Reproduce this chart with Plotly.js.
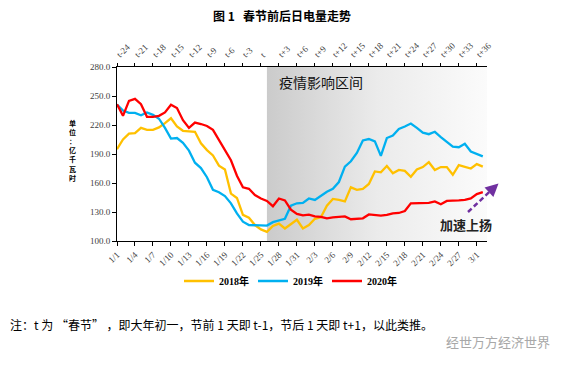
<!DOCTYPE html>
<html>
<head>
<meta charset="utf-8">
<script src="https://cdn.plot.ly/plotly-3.0.1.min.js"></script>
<style>
html,body{margin:0;padding:0;background:#fff;}
#chart{width:568px;height:366px;}
</style>
</head>
<body>
<div id="chart"></div>
<script>
// ---- data ----
const dates = ['1/1','1/2','1/3','1/4','1/5','1/6','1/7','1/8','1/9','1/10','1/11','1/12','1/13','1/14','1/15','1/16','1/17','1/18','1/19','1/20','1/21','1/22','1/23','1/24','1/25','1/26','1/27','1/28','1/29','1/30','1/31',
  '2/1','2/2','2/3','2/4','2/5','2/6','2/7','2/8','2/9','2/10','2/11','2/12','2/13','2/14','2/15','2/16','2/17','2/18','2/19','2/20','2/21','2/22','2/23','2/24','2/25','2/26','2/27','2/28','2/29','3/1','3/2'];

const y2018 = [195,205,211,211.5,217,215,215,217.5,222,227,218.5,214,213.5,213,201,194,188.5,178,174,149,144.5,127,124,116.5,112,109.5,115.5,118,113,118,122,
  113,116.5,123,124.5,136.5,143.5,142.5,141,155.5,153,154,159,172,171,177.5,170,173.5,172.5,166.5,174,176.5,181.5,173.5,176.5,176.5,168.5,178.5,176.5,175,179.5,177];

const y2019 = [241,235,232.5,232.5,230,233,230.5,226.5,217,206,206.5,201.5,193.5,181,175.5,166,153,150.5,146.5,139,128.5,120,116.5,116.5,116.5,116,119.5,121.5,123,136.5,139,
  139.5,144,142.5,147,151,154,161,177,182.5,191,204,205.5,203,188,206.5,209,216,218.5,221.5,217,212,210.5,213,207.5,202,197.5,197,200.5,192.5,190,187.5];

const y2020 = [241.5,229.5,245,247,241.5,228.5,228.5,229.5,233,241,237.5,225,217,222.5,221,219,215,204.5,194,183.5,167.5,155.5,154,147.5,144,141.5,136,144,142,132.5,128,
  126.5,127.3,125.5,125,123.5,124.5,125,125.5,122.5,123,123.5,127.5,127,126.2,127,128.5,129,131,139,139,139,139.5,141,138,141.5,141.5,142,142.5,144,148.5,150.5];

const xTickLabels = ['1/1','1/4','1/7','1/10','1/13','1/16','1/19','1/22','1/25','1/28','1/31','2/3','2/6','2/9','2/12','2/15','2/18','2/21','2/24','2/27','3/1'];
const tTickLabels = ['t-24','t-21','t-18','t-15','t-12','t-9','t-6','t-3','t','t+3','t+6','t+9','t+12','t+15','t+18','t+21','t+24','t+27','t+30','t+33','t+36'];

const seriesNames = ['2018年','2019年','2020年'];
const seriesColors = ['#FFC000','#00B0F0','#FF0000'];
const shadeFrom = '1/26';

// ---- build ----
const xi = dates.map((_, i) => i);
const tickIdx = xTickLabels.map(l => dates.indexOf(l));
const xMax = dates.length - 1 + 0.7;
const yMin = 100, yMax = 280;

const W = 568, H = 366;
const M = {l:117, r:81, t:67, b:125};
const PW = W - M.l - M.r, PH = H - M.t - M.b;
const px = v => (v - M.l) / PW;
const py = v => (H - M.b - v) / PH;

const shadeStart = dates.indexOf(shadeFrom);
const traces = [{
  x:[shadeStart, xMax, xMax, shadeStart], y:[yMin, yMin, yMax, yMax],
  mode:'none', fill:'toself', showlegend:false, hoverinfo:'skip',
  fillcolor:'#e4e4e4',
  fillgradient:{type:'horizontal', colorscale:[[0,'#cbcbcb'],[0.5,'#ebebeb'],[1,'#fbfbfb']]}
}];
[y2018, y2019, y2020].forEach((ys, k) => {
  traces.push({x:xi, y:ys, name:seriesNames[k], mode:'lines', type:'scatter',
    line:{color:seriesColors[k], width:2.3}});
});
// empty trace so that the top (t-based) axis is drawn
traces.push({x:[tickIdx[0]], y:[null], xaxis:'x2', yaxis:'y', mode:'lines', showlegend:false, hoverinfo:'skip'});

const tickFont = () => ({family:'Liberation Serif, Times New Roman, serif', size:9, color:'#404040'});
const cjk = 'Noto Sans CJK SC, Noto Sans, sans-serif';
const ytitle = '单位：亿千瓦时';

const annotations = [
  {text:'<b>图 1   春节前后日电量走势</b>', xref:'paper', yref:'paper', x:px(282), y:py(16), showarrow:false,
   font:{family:cjk, size:12, color:'#000'}, xanchor:'center', yanchor:'middle'},
  {text:'疫情影响区间', xref:'paper', yref:'paper', x:px(277), y:py(82), showarrow:false,
   font:{family:cjk, size:14, color:'#111'}, xanchor:'left', yanchor:'middle'},
  {text:'<b>加速上扬</b>', xref:'paper', yref:'paper', x:px(466), y:py(224), showarrow:false,
   font:{family:cjk, size:13, color:'#222'}, xanchor:'center', yanchor:'middle'},
  {text:'', xref:'paper', yref:'paper', x:px(498.5), y:py(183.5), ax:-7, ay:6.5, axref:'pixel', ayref:'pixel',
   showarrow:true, arrowhead:2, arrowsize:1.3, arrowwidth:2, arrowcolor:'#7030A0'},
  {text:'注：t 为 “春节” ，即大年初一，节前 1 天即 t-1，节后 1 天即 t+1，以此类推。', xref:'paper', yref:'paper',
   x:px(8), y:py(324), showarrow:false, font:{family:cjk, size:12, color:'#000'}, xanchor:'left', yanchor:'middle'},
  {text:'经世万方经济世界', xref:'paper', yref:'paper', x:px(552), y:py(341), showarrow:false,
   font:{family:cjk, size:13, color:'#a8a8a8'}, xanchor:'right', yanchor:'middle'},
  {text:'<b>' + [...ytitle].join('<br>') + '</b>', xref:'paper', yref:'paper', x:px(72), y:py(150), showarrow:false,
   font:{family:cjk, size:7, color:'#000'}, xanchor:'center', yanchor:'middle', borderpad:0}
];

const layout = {
  width:W, height:H, margin:M, paper_bgcolor:'#fff', plot_bgcolor:'rgba(0,0,0,0)',
  showlegend:true,
  legend:{orientation:'h', x:px(179), y:py(281), xanchor:'left', yanchor:'middle',
    font:{family:'Liberation Serif, Noto Sans CJK SC, serif', size:10, color:'#000', weight:'bold'},
    entrywidth:29, entrywidthmode:'pixels', itemwidth:30, bgcolor:'rgba(0,0,0,0)', tracegroupgap:0},
  xaxis:{range:[0, xMax], tickmode:'array', tickvals:tickIdx, ticktext:xTickLabels, tickangle:-45,
    ticks:'outside', ticklen:4, tickcolor:'#000', showline:true, linecolor:'#000', linewidth:1,
    showgrid:false, zeroline:false, tickfont:tickFont()},
  xaxis2:{overlaying:'x', side:'top', anchor:'y', range:[0, xMax], tickmode:'array', tickvals:tickIdx, ticktext:tTickLabels,
    tickangle:-45, ticks:'outside', ticklen:3, tickcolor:'#000', showline:true, linecolor:'#000', linewidth:1,
    showgrid:false, zeroline:false, tickfont:tickFont()},
  yaxis:{range:[yMin, yMax], tick0:100, dtick:30, tickformat:'.1f', ticks:'outside', ticklen:4, tickcolor:'#000',
    showline:true, linecolor:'#000', linewidth:1, showgrid:false, zeroline:false, tickfont:tickFont()},
  shapes:[
    {type:'line', xref:'paper', yref:'paper', x0:px(468), y0:py(212), x1:px(493), y1:py(188.5),
     line:{color:'#7030A0', width:2.5, dash:'5px,3px'}}
  ],
  annotations:annotations
};

Plotly.newPlot('chart', traces, layout, {displayModeBar:false, staticPlot:true});
</script>
</body>
</html>
